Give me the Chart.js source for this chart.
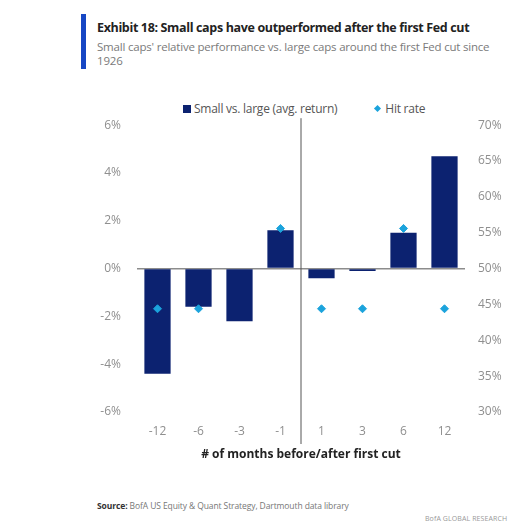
<!DOCTYPE html>
<html>
<head>
<meta charset="utf-8">
<script src="https://cdn.jsdelivr.net/npm/chart.js@4.4.1/dist/chart.umd.min.js"></script>
<style>
  html, body { margin: 0; padding: 0; background: #fff; }
  body { width: 518px; height: 525px; position: relative; overflow: hidden; font-family: "Open Sans", sans-serif; }
  .bar { position: absolute; left: 81px; top: 14px; width: 5px; height: 55px; background: #1747c4; }
  .title { position: absolute; left: 97px; top: 19px; font-size: 12.5px; font-weight: 700; color: #222; letter-spacing: -0.35px; white-space: nowrap; }
  .sub { position: absolute; left: 97px; top: 40px; width: 415px; font-size: 11.5px; line-height: 14px; color: #7a7a7a; letter-spacing: -0.2px; }
  .legend { position: absolute; top: 100px; left: 183px; font-size: 12px; color: #555; letter-spacing: -0.25px; white-space: nowrap; }
  .legend .sw { display: inline-block; width: 8px; height: 8px; background: #0c2270; margin-right: 3px; vertical-align: 0px; }
  .legend .dm { display: inline-block; width: 5px; height: 5px; background: #1ba3dc; transform: rotate(45deg); margin: 0 5px 1px 38px; vertical-align: 1px; }
  #wrap { position: absolute; left: 60px; top: 102px; width: 458px; height: 370px; }
  .src { position: absolute; left: 97px; top: 500px; font-size: 8.5px; color: #777; letter-spacing: -0.1px; }
  .src b { color: #333; }
  .brand { position: absolute; left: 425px; top: 514px; font-size: 7px; color: #999; letter-spacing: 0.1px; }
</style>
</head>
<body>
<div class="bar"></div>
<div class="title">Exhibit 18: Small caps have outperformed after the first Fed cut</div>
<div class="sub">Small caps' relative performance vs. large caps around the first Fed cut since 1926</div>
<div class="legend"><span class="sw"></span>Small vs. large (avg. return)<span class="dm"></span>Hit rate</div>
<div id="wrap"><canvas id="c"></canvas></div>
<div class="src"><b>Source:</b> BofA US Equity &amp; Quant Strategy, Dartmouth data library</div>
<div class="brand">BofA GLOBAL RESEARCH</div>
<script>
// meses antes/depois do primeiro corte
var months = ["-12", "-6", "-3", "-1", "1", "3", "6", "12"];
// retorno médio small vs large (%)
var relReturn = [-4.4, -1.6, -2.2, 1.6, -0.4, -0.1, 1.5, 4.7];
// hit rate (%)
var hitRate = [44.4, 44.4, null, 55.6, 44.4, 44.4, 55.6, 44.4];

var leftTicks = [-6, -4, -2, 0, 2, 4, 6];
var rightTicks = [30, 35, 40, 45, 50, 55, 60, 65, 70];

var NAVY = "#0c2270";
var CYAN = "#1ba3dc";
var TICK = "#8f8f8f";

// linha vertical separando antes/depois do corte
var cutLine = {
  id: "cutLine",
  afterDatasetsDraw: function (chart) {
    var x = chart.scales.x;
    var pos = (x.getPixelForValue(3) + x.getPixelForValue(4)) / 2;
    var ctx = chart.ctx;
    ctx.save();
    ctx.strokeStyle = "#555";
    ctx.lineWidth = 1;
    ctx.beginPath();
    ctx.moveTo(pos, chart.chartArea.top - 7);
    ctx.lineTo(pos, chart.chartArea.bottom + 32);
    ctx.stroke();
    ctx.restore();
  }
};

new Chart(document.getElementById("c"), {
  data: {
    labels: months,
    datasets: [
      {
        type: "scatter",
        label: "Hit rate",
        data: hitRate,
        yAxisID: "y2",
        backgroundColor: CYAN,
        borderColor: CYAN,
        pointStyle: "rectRot",
        pointRadius: 4,
        order: 0
      },
      {
        type: "bar",
        label: "Small vs. large (avg. return)",
        data: relReturn,
        yAxisID: "y",
        backgroundColor: NAVY,
        categoryPercentage: 1,
        barPercentage: 0.64,
        order: 1
      }
    ]
  },
  options: {
    responsive: true,
    maintainAspectRatio: false,
    animation: false,
    layout: { padding: { top: 10 } },
    plugins: { legend: { display: false }, tooltip: { enabled: false } },
    scales: {
      x: {
        type: "category",
        grid: { display: false, drawTicks: false },
        border: { display: false },
        ticks: { color: TICK, font: { family: "Open Sans", size: 12 }, padding: 12 },
        title: {
          display: true,
          text: "# of months before/after first cut",
          color: "#222",
          font: { family: "Open Sans", size: 12, weight: "bold" },
          padding: { top: 0, bottom: 10 }
        },
        afterFit: function (s) { s.height = 60; }
      },
      y: {
        position: "left",
        min: -6, max: 6,
        afterBuildTicks: function (s) { s.ticks = leftTicks.map(function (v) { return { value: v }; }); },
        grid: {
          drawTicks: false,
          color: function (c) { return c.tick && c.tick.value === 0 ? "#8c8c8c" : "rgba(0,0,0,0)"; },
          lineWidth: 1.5
        },
        border: { display: false },
        ticks: { color: TICK, font: { family: "Open Sans", size: 12 }, padding: 16, callback: function (v) { return v + "%"; } },
        afterFit: function (s) { s.width = 77; }
      },
      y2: {
        position: "right",
        min: 30, max: 70,
        afterBuildTicks: function (s) { s.ticks = rightTicks.map(function (v) { return { value: v }; }); },
        grid: { display: false, drawTicks: false },
        border: { display: false },
        ticks: { color: TICK, font: { family: "Open Sans", size: 12 }, padding: 13, callback: function (v) { return v + "%"; } },
        afterFit: function (s) { s.width = 53; }
      }
    }
  },
  plugins: [cutLine]
});
</script>
</body>
</html>
